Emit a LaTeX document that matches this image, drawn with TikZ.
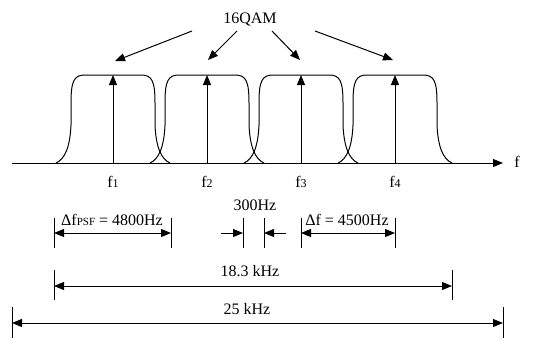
\documentclass[tikz,border=0pt]{standalone}
\usepackage{fontspec}
\setmainfont{Liberation Serif}
\usetikzlibrary{arrows.meta}
\begin{document}
\begin{tikzpicture}[x=1pt,y=-1pt,line width=1pt,
  tip/.style={-{Triangle[length=10pt,width=8pt]}},
  dtip/.style={{Triangle[length=10pt,width=8pt]}-{Triangle[length=10pt,width=8pt]}},
  lbl/.style={font=\fontsize{16}{18}\selectfont, inner sep=0pt, anchor=base}]
\useasboundingbox (0,0) rectangle (540,338);
% axis
\coordinate (a0) at (12,163);
\coordinate (a1) at (503,163);
\draw[tip] (a0) -- (a1);
\node[lbl] (fax) at (517,167) {f};
% filters and carriers
\foreach \c [count=\i] in {113,207,301,395} {
  \draw (\c-57,163) .. controls (\c-48,159) and (\c-43,147) .. (\c-42,125) -- (\c-42,103)
        .. controls (\c-42,81) and (\c-39,75) .. (\c-28,75) -- (\c+28,75)
        .. controls (\c+39,75) and (\c+42,81) .. (\c+42,103) -- (\c+42,125)
        .. controls (\c+43,147) and (\c+48,159) .. (\c+57,163);
  \coordinate (b\i) at (\c,163);
  \coordinate (t\i) at (\c,75);
  \draw[tip] (b\i) -- (t\i);
  \node[lbl] (f\i) at (\c,187) {f{\fontsize{12}{12}\selectfont\i}};
}
% 16QAM
\node[lbl] (qam) at (250,23) {16QAM};
\coordinate (q1) at (192,31); \coordinate (e1) at (115,61);
\coordinate (q2) at (237,31); \coordinate (e2) at (208,60);
\coordinate (q3) at (272,31); \coordinate (e3) at (300,60);
\coordinate (q4) at (315,31); \coordinate (e4) at (393,60);
\foreach \i in {1,2,3,4} \draw[tip] (q\i) -- (e\i);
% row 1 dimensions
\coordinate (p1t) at (54,218); \coordinate (p1b) at (54,248);
\coordinate (p2t) at (171,218); \coordinate (p2b) at (171,248);
\draw (p1t) -- (p1b); \draw (p2t) -- (p2b);
\coordinate (p1) at (54,233); \coordinate (p2) at (171,233);
\draw[dtip] (p1) -- (p2);
\node[lbl] (lpsf) at (112,225) {Δf{\fontsize{11}{11}\selectfont PSF} = 4800Hz};
% 300 Hz
\coordinate (g1t) at (243,218); \coordinate (g1b) at (243,248);
\coordinate (g2t) at (264,218); \coordinate (g2b) at (264,248);
\draw (g1t) -- (g1b); \draw (g2t) -- (g2b);
\coordinate (g1) at (243,233); \coordinate (g2) at (264,233);
\coordinate (g0) at (221,233); \coordinate (g3) at (286,233);
\draw[tip] (g0) -- (g1);
\draw[tip] (g3) -- (g2);
\node[lbl] (l300) at (255,210) {300Hz};
% delta f
\coordinate (d1t) at (301,218); \coordinate (d1b) at (301,248);
\coordinate (d2t) at (395,218); \coordinate (d2b) at (395,248);
\draw (d1t) -- (d1b); \draw (d2t) -- (d2b);
\coordinate (d1) at (301,233); \coordinate (d2) at (395,233);
\draw[dtip] (d1) -- (d2);
\node[lbl] (ldf) at (347,225) {Δf = 4500Hz};
% 18.3 kHz
\coordinate (m1t) at (54,270); \coordinate (m1b) at (54,300);
\coordinate (m2t) at (452,270); \coordinate (m2b) at (452,300);
\draw (m1t) -- (m1b); \draw (m2t) -- (m2b);
\coordinate (m1) at (54,286); \coordinate (m2) at (452,286);
\draw[dtip] (m1) -- (m2);
\node[lbl] (l183) at (250,276) {18.3 kHz};
% 25 kHz
\coordinate (n1t) at (12,307); \coordinate (n1b) at (12,338);
\coordinate (n2t) at (503,307); \coordinate (n2b) at (503,338);
\draw (n1t) -- (n1b); \draw (n2t) -- (n2b);
\coordinate (n1) at (12,323); \coordinate (n2) at (503,323);
\draw[dtip] (n1) -- (n2);
\node[lbl] (l25) at (247,314) {25 kHz};
\end{tikzpicture}
\end{document}
